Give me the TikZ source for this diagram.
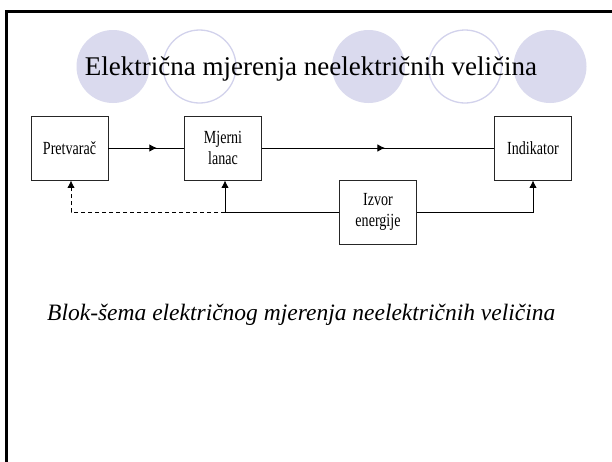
\documentclass[tikz,border=0pt]{standalone}
\usepackage{fontspec}
\setmainfont{Liberation Serif}
\newfontfamily\boxfont[FakeStretch=0.76]{Liberation Serif}
\usetikzlibrary{arrows.meta,decorations.markings}
\definecolor{lavfill}{RGB}{218,218,238}
\definecolor{lavline}{RGB}{210,210,236}

\begin{document}
\begin{tikzpicture}[x=1pt,y=-1pt,
  blok/.style={draw=black!85, line width=0.9pt, minimum width=77pt,
    minimum height=64pt, inner sep=0pt, align=center,
    font=\boxfont\fontsize{18.5}{21}\selectfont},
  veza/.style={line width=0.9pt},
  tip/.style={-{Latex[length=7.5pt,width=7.5pt]}},
  midtip/.style={postaction={decorate}, decoration={markings,
    mark=at position #1 with {\arrow{Latex[length=7.5pt,width=7.5pt]}}}},
  isprekidano/.style={dash pattern=on 4pt off 3pt},
]
\clip (0,0) rectangle (612,461);
\fill[white] (0,0) rectangle (612,461);

% decorative circles behind the title
\fill[lavfill] (113,66.5) circle[x radius=36.5, y radius=36.5];
\draw[lavline, line width=1.3pt] (199.5,66.5) circle[x radius=36.5, y radius=36.5];
\fill[lavfill] (368.5,66.5) circle[x radius=36.5, y radius=36.5];
\draw[lavline, line width=1.3pt] (465,66.5) circle[x radius=36.5, y radius=36.5];
\fill[lavfill] (550,66.5) circle[x radius=36.5, y radius=36.5];

% slide frame
\draw[line width=2.6pt] (6.3,470) -- (6.3,11.5) -- (620,11.5);

% title
\node[font=\fontsize{27}{32}\selectfont, anchor=base, inner sep=0pt] (naslov)
  at (311,75) {Električna mjerenja neelektričnih veličina};

% blocks
\node[blok] (pret) at (69.5,148) {Pretvarač};
\node[blok] (mjer) at (223,148) {\raisebox{-3pt}{\parbox{70pt}{\centering Mjerni\\lanac}}};
\node[blok] (ind) at (533,148) {Indikator};
\node[blok] (izv) at (378,212) {\raisebox{3pt}{\parbox{70pt}{\centering Izvor\\energije}}};

% signal path
\draw[veza, midtip=0.64] (pret.east) -- (mjer.west);
\draw[veza, midtip=0.53] (mjer.east) -- (ind.west);

% energy supply
\draw[veza, tip] (izv.west) -| ([xshift=2pt]mjer.south);
\draw[veza, tip] (izv.east) -| (ind.south);
\draw[veza, isprekidano, tip] ([xshift=2pt]mjer.south |- izv.west) -| ([xshift=1.5pt]pret.south);

% caption
\node[font=\itshape\fontsize{23.5}{28}\selectfont, anchor=base west, inner sep=0pt] (opis)
  at (47,320) {Blok-šema električnog mjerenja neelektričnih veličina};
\end{tikzpicture}
\end{document}
